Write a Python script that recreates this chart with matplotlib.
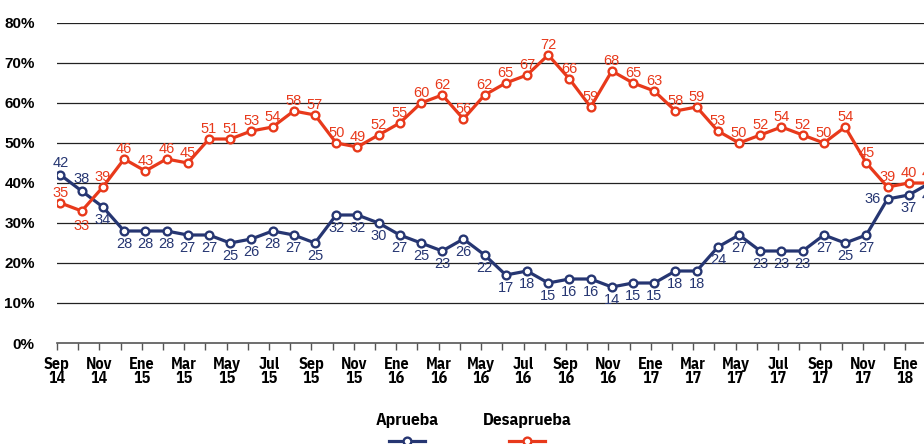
import numpy as np
import matplotlib
matplotlib.use("Agg")
import matplotlib.pyplot as plt
from matplotlib.lines import Line2D

months = ["Sep", "Oct", "Nov", "Dic", "Ene", "Feb", "Mar", "Abr", "May", "Jun", "Jul", "Ago"]
start_year = 14

aprueba = [42, 38, 34, 28, 28, 28, 27, 27, 25, 26, 28, 27, 25, 32, 32, 30, 27, 25, 23, 26, 22,
           17, 18, 15, 16, 16, 14, 15, 15, 18, 18, 24, 27, 23, 23, 23, 27, 25, 27, 36, 37, 40]
desaprueba = [35, 33, 39, 46, 43, 46, 45, 51, 51, 53, 54, 58, 57, 50, 49, 52, 55, 60, 62, 56, 62,
              65, 67, 72, 66, 59, 68, 65, 63, 58, 59, 53, 50, 52, 54, 52, 50, 54, 45, 39, 40, 40]

# labels every two months: Sep 14 ... Ene 18
tick_labels = []
for i in range(0, 41, 2):
    m = months[i % 12]
    yr = start_year + (i + 8) // 12
    tick_labels.append(f"{m}\n{yr}")

BLUE = "#263672"
ORANGE = "#E8391B"
narrow = ["IBM Plex Sans Condensed", "DejaVu Sans"]
sans = ["Liberation Sans", "DejaVu Sans"]

fig = plt.figure(figsize=(9.24, 4.44), dpi=100)
ax = fig.add_axes([57 / 924, 101 / 444, 867 / 924, 320 / 444])

x = np.arange(len(aprueba))
off = 0.165
ax.set_xlim(-off, 40.72)
ax.set_ylim(0, 80)

for yv in range(10, 81, 10):
    ax.axhline(yv, color="#222222", lw=0.9, zorder=1)

style = dict(lw=2.3, marker="o", ms=5.6, mfc="white", mew=1.7, clip_on=True, zorder=3)
ax.plot(x, aprueba, color=BLUE, **style)
ax.plot(x, desaprueba, color=ORANGE, **style)

for i, v in enumerate(desaprueba):
    dy = -11 if i == 1 else 7.5
    ax.annotate(str(v), (i, v), xytext=(0, dy), textcoords="offset points",
                ha="center", va="center", color=ORANGE, fontsize=10.5,
                family=sans, annotation_clip=False, zorder=4)

for i, v in enumerate(aprueba):
    if i in (0, 1):
        xy, ha = (0, 8.5), "center"
    elif i == 39:
        xy, ha = (-5, 0), "right"
    else:
        xy, ha = (0, -9), "center"
    ax.annotate(str(v), (i, v), xytext=xy, textcoords="offset points",
                ha=ha, va="center", color=BLUE, fontsize=10.5,
                family=sans, annotation_clip=False, zorder=4)

ax.set_xticks(np.arange(0, 41, 2) - off)
ax.set_xticklabels(tick_labels, family=narrow, fontweight="bold", fontsize=11.5, linespacing=0.95)
ax.set_xticks(np.arange(0, 41) - off, minor=True)
ax.tick_params(axis="x", which="both", direction="out", length=5, width=1, color="#555555", pad=5)

ax.set_yticks(range(0, 81, 10))
ax.set_yticklabels([f"{v}%" for v in range(0, 81, 10)], family=sans, fontweight="bold", fontsize=11)
ax.tick_params(axis="y", length=0, pad=16)

for s in ("left", "right", "top"):
    ax.spines[s].set_visible(False)
ax.spines["bottom"].set_color("#555555")
ax.spines["bottom"].set_linewidth(1.2)

# legend: name above its line/marker
for cx, name, col in [(407, "Aprueba", BLUE), (527, "Desaprueba", ORANGE)]:
    fig.text(cx / 924, 1 - 420 / 444, name, ha="center", va="center",
             family=narrow, fontweight="bold", fontsize=12.5)
    fig.add_artist(Line2D([(cx - 18) / 924, (cx + 18) / 924], [1 - 441 / 444] * 2,
                          color=col, lw=2.3, transform=fig.transFigure))
    fig.add_artist(Line2D([cx / 924], [1 - 441 / 444], color=col, marker="o", ms=5.6,
                          mfc="white", mew=1.7, transform=fig.transFigure))

fig.savefig("out.png", dpi=100)
